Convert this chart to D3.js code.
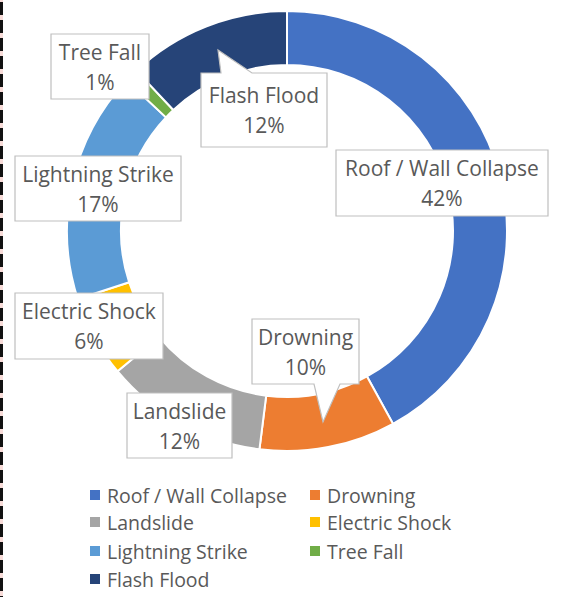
<!DOCTYPE html>
<html>
<head>
<meta charset="utf-8">
<script src="https://cdn.jsdelivr.net/npm/d3@7"></script>
<style>
  html, body { margin: 0; padding: 0; background: #fff; }
  svg { display: block; }
</style>
</head>
<body>
<svg id="chart" width="565" height="597"></svg>
<script>
// ---- data ----
const categories = ["Roof / Wall Collapse", "Drowning", "Landslide", "Electric Shock", "Lightning Strike", "Tree Fall", "Flash Flood"];
const values = [42, 10, 12, 6, 17, 1, 12];
const colors = ["#4472C4", "#ED7D31", "#A5A5A5", "#FFC000", "#5B9BD5", "#70AD47", "#264478"];

// ---- layout (positions of label boxes: x0,y0,x1,y1 ; optional pointer tip) ----
const labelBoxes = [
  {x0: 336, y0: 150, x1: 548, y1: 216},
  {x0: 252, y0: 319, x1: 359, y1: 384, tip: {side: "bottom", a: 314, b: 340, x: 323, y: 422}},
  {x0: 127, y0: 393, x1: 232, y1: 458},
  {x0: 15,  y0: 293, x1: 163, y1: 359},
  {x0: 15,  y0: 156, x1: 181, y1: 221},
  {x0: 51,  y0: 34,  x1: 149, y1: 99},
  {x0: 201, y0: 73,  x1: 327, y1: 147, tip: {side: "top", a: 221, b: 252, x: 218, y: 50}}
];

const svg = d3.select("#chart");
const cx = 287, cy = 231, rOuter = 220, rInner = 166;

// left dashed border
svg.append("line")
  .attr("x1", 1.5).attr("x2", 1.5).attr("y1", 0).attr("y2", 597)
  .attr("stroke", "#f8dcd9").attr("stroke-width", 3);
svg.append("line")
  .attr("x1", 1.5).attr("x2", 1.5).attr("y1", 2).attr("y2", 597)
  .attr("stroke", "#111").attr("stroke-width", 3)
  .attr("stroke-dasharray", "13,5");

const pie = d3.pie().sort(null).value(d => d)(values);
const arc = d3.arc().innerRadius(rInner).outerRadius(rOuter);

const g = svg.append("g").attr("transform", `translate(${cx},${cy})`);
g.selectAll("path.slice")
  .data(pie)
  .join("path")
  .attr("class", "slice")
  .attr("d", arc)
  .attr("fill", (d, i) => colors[i])
  .attr("stroke", "#fff")
  .attr("stroke-width", 2);

const total = d3.sum(values);
const fmt = v => Math.round(v / total * 100) + "%";

// label callouts
const labelFont = "'Open Sans', Lato, sans-serif";
labelBoxes.forEach((b, i) => {
  let p;
  if (b.tip && b.tip.side === "top") {
    p = `M${b.x0},${b.y0} L${b.tip.a},${b.y0} L${b.tip.x},${b.tip.y} L${b.tip.b},${b.y0} L${b.x1},${b.y0} L${b.x1},${b.y1} L${b.x0},${b.y1} Z`;
  } else if (b.tip && b.tip.side === "bottom") {
    p = `M${b.x0},${b.y0} L${b.x1},${b.y0} L${b.x1},${b.y1} L${b.tip.b},${b.y1} L${b.tip.x},${b.tip.y} L${b.tip.a},${b.y1} L${b.x0},${b.y1} Z`;
  } else {
    p = `M${b.x0},${b.y0} L${b.x1},${b.y0} L${b.x1},${b.y1} L${b.x0},${b.y1} Z`;
  }
  svg.append("path").attr("d", p)
    .attr("fill", "#fff").attr("stroke", "#bfbfbf").attr("stroke-width", 1.2);
  const mx = (b.x0 + b.x1) / 2, my = (b.y0 + b.y1) / 2;
  const t = svg.append("text")
    .attr("x", mx).attr("text-anchor", "middle")
    .attr("font-family", labelFont).attr("font-size", 21)
    .attr("fill", "#595959");
  t.append("tspan").attr("x", mx).attr("y", my - 15).attr("dominant-baseline", "central").text(categories[i]);
  t.append("tspan").attr("x", mx).attr("y", my + 15).attr("dominant-baseline", "central").text(fmt(values[i]));
});

// legend
const legendCols = [90, 310];
const legendRows = [495, 522, 551, 579];
const lg = svg.append("g");
categories.forEach((c, i) => {
  const col = i % 2, row = Math.floor(i / 2);
  const x = legendCols[col], y = legendRows[row];
  lg.append("rect").attr("x", x).attr("y", y - 5).attr("width", 10).attr("height", 10).attr("fill", colors[i]);
  lg.append("text").attr("x", x + 17).attr("y", y)
    .attr("dominant-baseline", "central")
    .attr("font-family", labelFont).attr("font-size", 19.5)
    .attr("fill", "#595959").text(c);
});
</script>
</body>
</html>
